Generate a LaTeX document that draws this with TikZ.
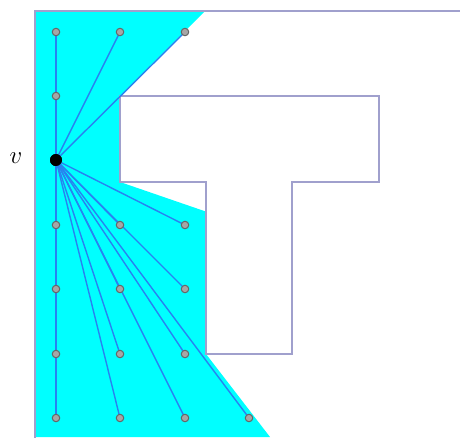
\documentclass[tikz,border=0pt]{standalone}
\begin{document}
\begin{tikzpicture}[x=1pt,y=-1pt,
  wall/.style={draw=wallc,line width=1.8pt,line join=miter},
  ray/.style={draw=rayc,line width=1.4pt},
  gpt/.style={circle,fill=gray!70,draw=gray!120,line width=1pt,inner sep=0pt,minimum size=7.5pt},
  vpt/.style={circle,fill=black,inner sep=0pt,minimum size=12pt}]
\definecolor{wallc}{RGB}{160,160,205}
\definecolor{rayc}{RGB}{40,130,240}
\definecolor{vis}{RGB}{0,255,255}
\useasboundingbox (0,0) rectangle (460,437);
\clip (0,0) rectangle (460,437);
% visibility region of v
\fill[vis] (35,11) -- (205,11) -- (120,96) -- (120,182) -- (206,211.6) -- (206,354) -- (270,437) -- (35,437) -- cycle;
% outer boundary
\draw[wall] (35,440) -- (35,11) -- (465,11);
% T-shaped obstacle
\draw[wall] (120,96) -- (379,96) -- (379,182) -- (292,182) -- (292,354) -- (206,354) -- (206,182) -- (120,182) -- cycle;
% grid points visible from v
\foreach \n/\x/\y in {a/56/32,b/120/32,c/185/32,d/56/96,
  e/56/225,f/120/225,g/185/225,
  h/56/289,i/120/289,j/185/289,
  k/56/354,l/120/354,m/185/354,
  n/56/418,o/120/418,p/185/418,q/249/418}
  \coordinate (c\n) at (\x,\y);
\node[vpt] (v) at (56,160) {};
\node (vlabel) at (16,158) {\fontsize{32}{32}\selectfont $v$};
\foreach \n in {a,b,c,d,e,f,g,h,i,j,k,l,m,n,o,p,q}
  \draw[ray] (v.center) -- (c\n);
\foreach \n in {a,b,c,d,e,f,g,h,i,j,k,l,m,n,o,p,q}
  \node[gpt] (g\n) at (c\n) {};
\node[vpt] at (v) {};
\end{tikzpicture}
\end{document}
